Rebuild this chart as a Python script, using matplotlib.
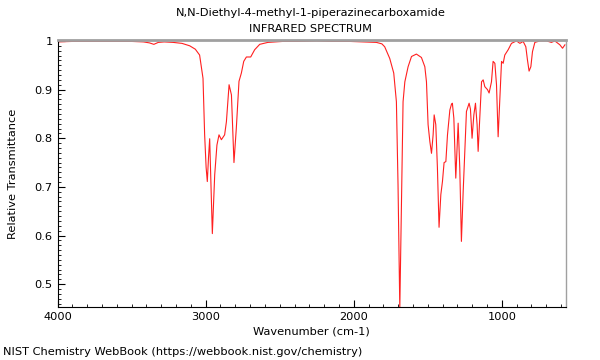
import matplotlib
matplotlib.use("Agg")
import matplotlib.pyplot as plt
from matplotlib.ticker import MultipleLocator, FuncFormatter

title_lines = ["N,N-Diethyl-4-methyl-1-piperazinecarboxamide", "INFRARED SPECTRUM"]
x_label = "Wavenumber (cm-1)"
y_label = "Relative Transmittance"
footer = "NIST Chemistry WebBook (https://webbook.nist.gov/chemistry)"

wavenumber = [4000, 3900, 3800, 3700, 3600, 3500, 3420, 3380, 3350, 3320, 3280, 3220, 3160,
              3108, 3070, 3041, 3018, 3007, 2997, 2989, 2981, 2973, 2964, 2955, 2939, 2924,
              2910, 2894, 2872, 2860, 2842, 2826, 2809, 2793, 2775, 2759, 2743, 2725, 2696,
              2669, 2635, 2580, 2480, 2380, 2252, 2150, 2027, 1930, 1847, 1810, 1791, 1757,
              1730, 1712, 1701, 1689, 1678, 1667, 1655, 1633, 1610, 1577, 1543, 1520, 1509,
              1498, 1486, 1475, 1464, 1457, 1446, 1435, 1424, 1412, 1401, 1390, 1378, 1367,
              1351, 1340, 1334, 1324, 1311, 1295, 1284, 1273, 1261, 1250, 1239, 1221, 1212,
              1201, 1189, 1178, 1167, 1160, 1149, 1137, 1126, 1115, 1097, 1086, 1070, 1059,
              1047, 1036, 1025, 1014, 1002, 991, 980, 957, 935, 901, 878, 856, 838, 827, 816,
              804, 793, 777, 743, 698, 665, 642, 608, 590, 574]
transmittance = [0.998, 0.999, 0.999, 0.999, 0.999, 0.999, 0.998, 0.996, 0.993, 0.997, 0.998,
                 0.997, 0.995, 0.990, 0.983, 0.971, 0.923, 0.807, 0.740, 0.711, 0.760, 0.799,
                 0.700, 0.604, 0.725, 0.786, 0.807, 0.797, 0.807, 0.834, 0.910, 0.889, 0.750,
                 0.821, 0.917, 0.934, 0.958, 0.967, 0.967, 0.982, 0.993, 0.997, 0.999, 0.999,
                 1.000, 0.999, 0.999, 0.998, 0.997, 0.994, 0.988, 0.964, 0.934, 0.875, 0.704,
                 0.450, 0.670, 0.875, 0.916, 0.947, 0.968, 0.973, 0.966, 0.947, 0.916, 0.828,
                 0.793, 0.769, 0.807, 0.848, 0.828, 0.739, 0.617, 0.684, 0.711, 0.750, 0.752,
                 0.807, 0.858, 0.870, 0.872, 0.841, 0.718, 0.831, 0.739, 0.588, 0.691, 0.773,
                 0.855, 0.872, 0.860, 0.800, 0.848, 0.872, 0.828, 0.773, 0.841, 0.916, 0.920,
                 0.906, 0.900, 0.893, 0.916, 0.958, 0.954, 0.910, 0.803, 0.875, 0.958, 0.954,
                 0.971, 0.982, 0.995, 1.000, 0.995, 0.999, 0.988, 0.961, 0.938, 0.947, 0.978,
                 0.997, 1.000, 1.000, 0.997, 1.000, 0.992, 0.985, 0.992]

fig = plt.figure(figsize=(6, 3.6), dpi=100)
ax = fig.add_axes([0.096, 0.147, 0.847, 0.742])
ax.plot(wavenumber, transmittance, color="#ff2020", lw=0.8)
ax.set_xlim(4000, 568)
ax.set_ylim(0.453, 1.002)

ax.xaxis.set_major_locator(MultipleLocator(1000))
ax.xaxis.set_minor_locator(MultipleLocator(100))
ax.yaxis.set_major_locator(MultipleLocator(0.1))
ax.yaxis.set_minor_locator(MultipleLocator(0.01))
ax.yaxis.set_major_formatter(FuncFormatter(lambda v, p: "%g" % round(v, 2)))
ax.tick_params(which="both", direction="in", labelsize=8.2, top=False, right=False)
ax.tick_params(which="major", length=5)
ax.tick_params(which="minor", length=2.5)

for s in ("top", "right"):
    ax.spines[s].set_color("#a0a0a0")
ax.spines["top"].set_linewidth(2)
ax.spines["right"].set_linewidth(1)

ax.set_xlabel(x_label, fontsize=8.2, labelpad=3)
ax.set_ylabel(y_label, fontsize=8.2, labelpad=12)

fig.text(0.518, 1 - 13 / 360, title_lines[0], ha="center", va="center", fontsize=8.2)
fig.text(0.518, 1 - 29 / 360, title_lines[1], ha="center", va="center", fontsize=8.2)
fig.text(3 / 600, 1 - 352 / 360, footer, ha="left", va="center", fontsize=8.2)

fig.savefig("out.png", dpi=100)
